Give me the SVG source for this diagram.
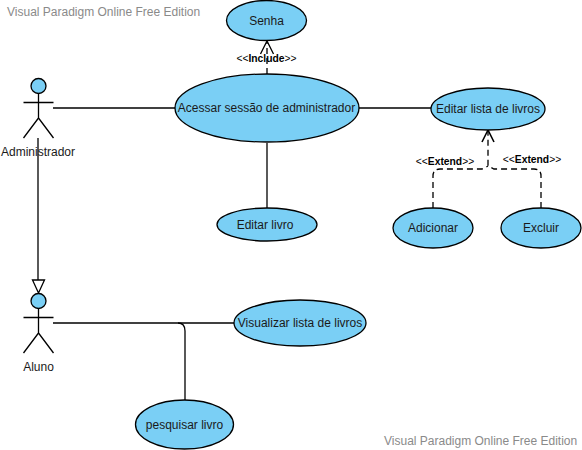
<svg xmlns="http://www.w3.org/2000/svg" width="582" height="450" viewBox="0 0 582 450">
<style>
text{font-family:"Liberation Sans",Arial,sans-serif;font-size:12px;fill:#1a1a1a;text-anchor:middle}
.wm{fill:#8a8a8a;text-anchor:start}
.e{fill:#7ACFF5;stroke:#000;stroke-width:1.3}
.l{fill:none;stroke:#000;stroke-width:1.3}
.d{stroke-dasharray:6 4}
.s{font-size:10.300px;fill:#000}
</style>
<rect width="582" height="450" fill="#fff"/>
<g id="connectors">
<path class="l" d="M53 108H175"/>
<path class="l" d="M359 108H431"/>
<path class="l" d="M267 143V208"/>
<path class="l" d="M38 138V280"/>
<path class="l" style="fill:#fff" d="M32.500 280H44.500L38.500 293Z"/>
<path class="l" d="M53 323H234"/>
<path class="l" d="M178 323Q185 323 185 331V400"/>
<path class="l d" d="M267 74V42"/>
<path class="l" d="M260.500 54L267 41L273.500 54"/>
<path class="l d" d="M433 208V176Q433 169 440 169H482L488 166"/>
<path class="l d" d="M541 208V176Q541 169 534 169H494L488 166V131"/>
<path class="l" style="stroke-width:1.600" d="M482 142L488 130L494 142"/>
</g>
<g id="senha"><ellipse class="e" cx="266.500" cy="20.500" rx="40" ry="20"/><text x="266.500" y="25">Senha</text></g>
<g id="acessar"><ellipse class="e" cx="267" cy="108" rx="92" ry="34"/><text x="266.500" y="112">Acessar sessão de administrador</text></g>
<g id="editar-lista"><ellipse class="e" cx="488" cy="109" rx="57" ry="21"/><text x="488" y="113">Editar lista de livros</text></g>
<g id="editar-livro"><ellipse class="e" cx="267" cy="224.500" rx="50" ry="16.500"/><text x="265" y="229">Editar livro</text></g>
<g id="adicionar"><ellipse class="e" cx="433" cy="228" rx="40" ry="20"/><text x="433" y="232">Adicionar</text></g>
<g id="excluir"><ellipse class="e" cx="541" cy="228" rx="40" ry="20"/><text x="541" y="232">Excluir</text></g>
<g id="visualizar"><ellipse class="e" cx="300" cy="323" rx="66" ry="23"/><text x="300" y="327">Visualizar lista de livros</text></g>
<g id="pesquisar"><ellipse class="e" cx="184.500" cy="424.500" rx="49" ry="24.500"/><text x="184.500" y="429">pesquisar livro</text></g>
<g id="administrador">
<circle class="e" cx="38.500" cy="86" r="7.500"/>
<path class="l" d="M38.500 93.500V118M23.500 102.500H53.500M38.500 118L23.500 138M38.500 118L53.500 138"/>
<text x="38" y="156">Administrador</text>
</g>
<g id="aluno">
<circle class="e" cx="38.500" cy="301" r="7.500"/>
<path class="l" d="M38.500 308.500V333M23.500 317.500H53.500M38.500 333L23.500 353M38.500 333L53.500 353"/>
<text x="38.500" y="371">Aluno</text>
</g>
<g id="labels">
<text class="s" x="266.500" y="62">&lt;&lt;<tspan font-weight="bold">Include</tspan>&gt;&gt;</text>
<text class="s" x="445" y="165">&lt;&lt;<tspan font-weight="bold">Extend</tspan>&gt;&gt;</text>
<text class="s" x="532" y="163">&lt;&lt;<tspan font-weight="bold">Extend</tspan>&gt;&gt;</text>
</g>
<text class="wm" x="7" y="16">Visual Paradigm Online Free Edition</text>
<text class="wm" x="384" y="445">Visual Paradigm Online Free Edition</text>
</svg>
